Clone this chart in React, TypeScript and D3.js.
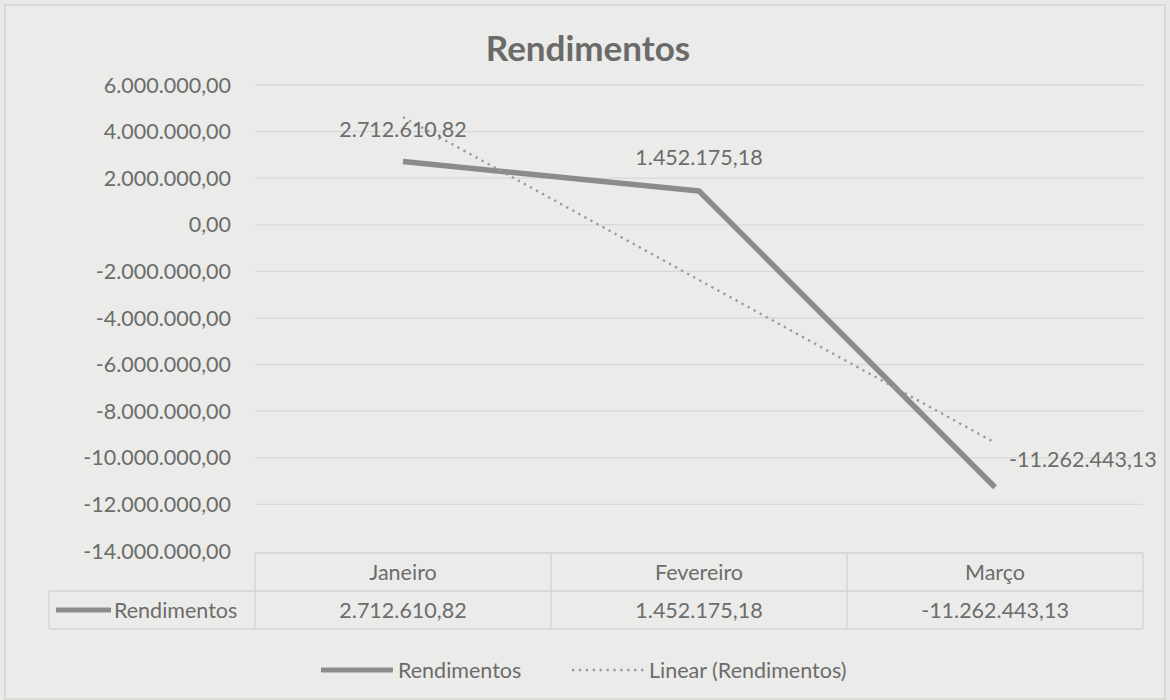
import React from "react";
import * as d3 from "d3";

const categories = ["Janeiro", "Fevereiro", "Março"];
const rendimentos = [2712610.82, 1452175.18, -11262443.13];
const yTicks = [6000000, 4000000, 2000000, 0, -2000000, -4000000, -6000000, -8000000, -10000000, -12000000, -14000000];
const seriesName = "Rendimentos";
const trendName = "Linear (Rendimentos)";
const title = "Rendimentos";

const W = 1170, H = 700;
const FONT = "Lato, 'Open Sans', sans-serif";
const TXT = "#6c6c6c";
const FS = 21.5;

const locale = d3.formatLocale({ decimal: ",", thousands: ".", grouping: [3], currency: ["R$", ""], minus: "-" });
const fmt = (v: number) => locale.format(",.2f")(v).replace("\u2212", "-");

export default function App() {
  const left = 255, right = 1143;
  const x = d3.scaleBand<string>().domain(categories).range([left, right]);
  const y = d3.scaleLinear().domain([-14000000, 6000000]).range([551, 85]);
  const cx = (c: string) => (x(c) as number) + x.bandwidth() / 2;

  // linear regression trend (Excel linear trendline)
  const xs = rendimentos.map((_, i) => i + 1);
  const mx = d3.mean(xs) as number, my = d3.mean(rendimentos) as number;
  const slope = d3.sum(xs.map((xi, i) => (xi - mx) * (rendimentos[i] - my))) / d3.sum(xs.map(xi => (xi - mx) ** 2));
  const icpt = my - slope * mx;
  const trend = xs.map(xi => icpt + slope * xi);

  const line = d3.line<number>().x((_, i) => cx(categories[i])).y(d => y(d));

  const tableTop = 553, rowSep = 591, tableBottom = 629, tableLeft = 49;
  const labelPos = [
    { dx: 0, dy: -25, anchor: "middle" },
    { dx: 0, dy: -26, anchor: "middle" },
    { dx: 14, dy: -20, anchor: "start" },
  ];

  const lineColor = "#8b8b8b";
  const trendColor = "#999999";

  return (
    <svg width={W} height={H} style={{ position: "absolute", left: 0, top: 0 }} fontFamily={FONT}>
      <rect x={0} y={0} width={W} height={H} fill="#e8e8e6" />
      <rect x={5} y={5} width={W - 10} height={H - 6} fill="#ebebe9" stroke="#d3d3d1" strokeWidth={1.5} />
      <text x={588} y={61} textAnchor="middle" fontSize={35} fontWeight="bold" fill="#6a6a6a">{title}</text>
      {yTicks.map(t => (
        <g key={t}>
          {t !== -14000000 && <line x1={left} x2={right} y1={y(t)} y2={y(t)} stroke="#d8d8d6" strokeWidth={1.3} />}
          <text x={231} y={y(t) + 7.5} textAnchor="end" fontSize={FS} fill={TXT}>{fmt(t)}</text>
        </g>
      ))}
      {/* data table */}
      <g stroke="#d3d3d1" strokeWidth={1.3} fill="none">
        <line x1={left} x2={right} y1={tableTop} y2={tableTop} />
        <line x1={tableLeft} x2={right} y1={rowSep} y2={rowSep} />
        <line x1={tableLeft} x2={right} y1={tableBottom} y2={tableBottom} />
        <line x1={tableLeft} x2={tableLeft} y1={rowSep} y2={tableBottom} />
        {categories.map(c => (
          <line key={c} x1={x(c) as number} x2={x(c) as number} y1={tableTop} y2={tableBottom} />
        ))}
        <line x1={right} x2={right} y1={tableTop} y2={tableBottom} />
      </g>
      {categories.map((c, i) => (
        <g key={c}>
          <text x={cx(c)} y={580} textAnchor="middle" fontSize={FS} fill={TXT}>{c}</text>
          <text x={cx(c)} y={618} textAnchor="middle" fontSize={FS} fill={TXT}>{fmt(rendimentos[i])}</text>
        </g>
      ))}
      <line x1={56} x2={111} y1={610} y2={610} stroke={lineColor} strokeWidth={5} />
      <text x={114} y={618} fontSize={FS} fill={TXT}>{seriesName}</text>
      {/* series */}
      <path d={line(rendimentos) as string} fill="none" stroke={lineColor} strokeWidth={5.5} strokeLinejoin="round" />
      <path d={line(trend) as string} fill="none" stroke={trendColor} strokeWidth={2.3} strokeDasharray="2.3,4.6" />
      {rendimentos.map((v, i) => (
        <text key={i} x={cx(categories[i]) + labelPos[i].dx} y={y(v) + labelPos[i].dy} textAnchor={labelPos[i].anchor as any} fontSize={FS} fill={TXT}>{fmt(v)}</text>
      ))}
      {/* legend */}
      <line x1={321} x2={393} y1={670} y2={670} stroke={lineColor} strokeWidth={5} />
      <text x={398} y={677.5} fontSize={FS} fill={TXT}>{seriesName}</text>
      <line x1={572} x2={644} y1={670} y2={670} stroke={trendColor} strokeWidth={2.3} strokeDasharray="2.3,4.6" />
      <text x={649} y={677.5} fontSize={FS} fill={TXT}>{trendName}</text>
    </svg>
  );
}
